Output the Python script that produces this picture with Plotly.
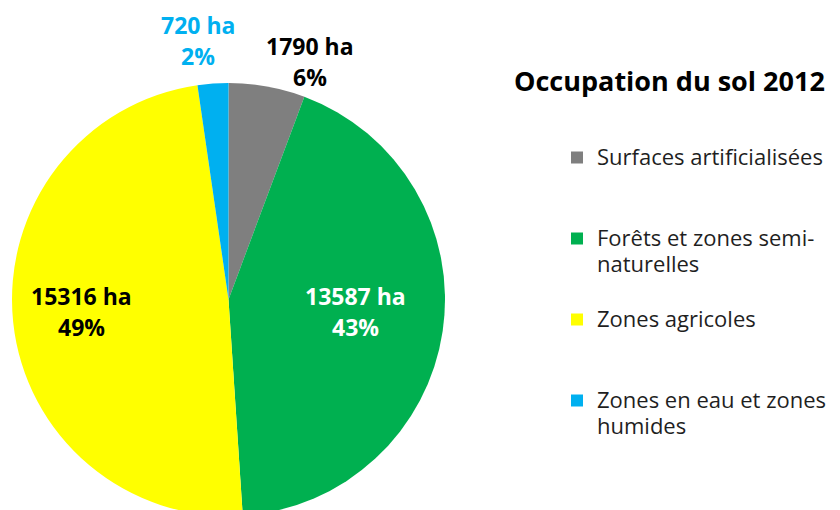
import plotly.graph_objects as go

# occupation du sol 2012 (ha)
categories = [
    "Surfaces artificialisées",
    "Forêts et zones semi-<br>naturelles",
    "Zones agricoles",
    "Zones en eau et zones<br>humides",
]
surfaces_ha = [1790, 13587, 15316, 720]
colors = ["#7F7F7F", "#00B050", "#FFFF00", "#00B0F0"]
label_colors = ["#000000", "#ffffff", "#000000", "#00B0F0"]

# label centre (px, figure coords) of the first line for each slice
label_pos = [(302, 38), (347, 288), (73, 288), (190, 17)]
LINE_STEP = 31

W, H = 840, 510
FONT = "Open Sans"

total = sum(surfaces_ha)
pcts = [round(100 * v / total) for v in surfaces_ha]


def pad(label, n=3):
    # pad every legend entry to the same number of lines so they are evenly spaced
    lines = label.count("<br>") + 1
    span = "<span style='font-size:22px'>"
    text = span + label.replace("<br>", "</span><br>" + span) + "</span>"
    return text + "<br> " * (n - lines)


cx, cy, r = 220.5, 291.5, 216.5
fig = go.Figure(
    go.Pie(
        labels=[pad(c) for c in categories],
        values=surfaces_ha,
        marker=dict(colors=colors, line=dict(width=0)),
        sort=False,
        direction="clockwise",
        rotation=0,
        textinfo="none",
        hoverinfo="label+value+percent",
        domain=dict(x=[(cx - r) / W, (cx + r) / W], y=[(H - cy - r) / H, (H - cy + r) / H]),
    )
)

annotations = []
for v, p, col, (lx, ly) in zip(surfaces_ha, pcts, label_colors, label_pos):
    for i, txt in enumerate([f"{v} ha", f"{p}%"]):
        annotations.append(
            dict(
                text=f"<b>{txt}</b>",
                x=lx / W,
                y=1 - (ly + i * LINE_STEP) / H,
                xref="paper",
                yref="paper",
                xanchor="center",
                yanchor="middle",
                showarrow=False,
                font=dict(family=FONT, size=23, color=col),
            )
        )

fig.update_layout(
    width=W,
    height=H,
    margin=dict(l=0, r=0, t=0, b=0),
    paper_bgcolor="white",
    plot_bgcolor="white",
    font=dict(family=FONT, color="#1f1f1f"),
    title=dict(
        text="<b>Occupation du sol 2012</b>",
        x=506 / W,
        xanchor="left",
        y=1 - 74 / H,
        yanchor="middle",
        xref="paper",
        yref="paper",
        font=dict(family=FONT, size=27, color="#000000"),
    ),
    legend=dict(
        x=549 / W,
        xanchor="left",
        y=1 - 130 / H,
        yanchor="top",
        valign="top",
        font=dict(family=FONT, size=20, color="#1f1f1f"),
        bgcolor="rgba(0,0,0,0)",
    ),
    annotations=annotations,
)

fig.write_html("out.html")
